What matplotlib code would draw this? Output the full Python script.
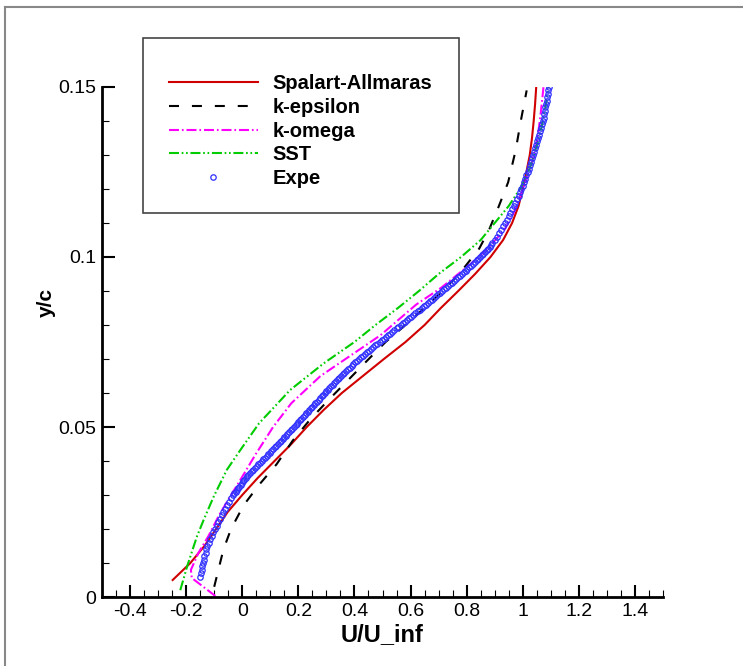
import matplotlib
matplotlib.use("Agg")
import matplotlib.pyplot as plt
from matplotlib.ticker import MultipleLocator, FuncFormatter
from matplotlib.patches import Rectangle
from matplotlib.lines import Line2D

plt.rcParams['font.family'] = ['Liberation Sans', 'DejaVu Sans']

# Spalart-Allmaras
sa_y = [0.005, 0.010, 0.015, 0.020, 0.025, 0.030, 0.035, 0.040, 0.045, 0.050,
        0.055, 0.060, 0.065, 0.070, 0.075, 0.080, 0.085, 0.090, 0.095, 0.100,
        0.105, 0.110, 0.115, 0.120, 0.125, 0.130, 0.135, 0.140, 0.145, 0.150]
sa_x = [-0.248, -0.185, -0.135, -0.093, -0.052, 0.000, 0.055, 0.115, 0.175, 0.230,
        0.290, 0.355, 0.430, 0.505, 0.582, 0.650, 0.708, 0.770, 0.830, 0.885,
        0.930, 0.962, 0.985, 1.000, 1.013, 1.025, 1.033, 1.039, 1.044, 1.048]

# k-epsilon
ke_y = [0.003, 0.008, 0.014, 0.020, 0.027, 0.033, 0.039, 0.046, 0.052, 0.058,
        0.063, 0.069, 0.075, 0.080, 0.084, 0.090, 0.096, 0.1025, 0.108, 0.115,
        0.122, 0.1315, 0.140, 0.149]
ke_x = [-0.100, -0.085, -0.067, -0.040, 0.005, 0.060, 0.122, 0.180, 0.240, 0.308,
        0.368, 0.439, 0.511, 0.582, 0.636, 0.715, 0.783, 0.845, 0.880, 0.915,
        0.948, 0.975, 0.993, 1.014]

# k-omega
kw_y = [0.0003, 0.0056, 0.008, 0.013, 0.018, 0.024, 0.030, 0.034, 0.042, 0.050,
        0.057, 0.065, 0.071, 0.077, 0.086, 0.091, 0.098, 0.103, 0.108, 0.113,
        0.121, 0.1285, 0.1344, 0.1422, 0.150]
kw_x = [-0.096, -0.180, -0.183, -0.156, -0.120, -0.083, -0.040, -0.010, 0.048, 0.110,
        0.175, 0.279, 0.386, 0.493, 0.620, 0.710, 0.815, 0.880, 0.935, 0.968,
        1.005, 1.035, 1.052, 1.064, 1.074]

# SST
sst_y = [0.002, 0.0094, 0.0177, 0.0226, 0.0295, 0.0374, 0.0432, 0.0511, 0.0609, 0.0687,
         0.075, 0.080, 0.085, 0.090, 0.095, 0.100, 0.105, 0.110, 0.115, 0.120,
         0.125, 0.130, 0.135, 0.140, 0.145, 0.150]
sst_x = [-0.221, -0.195, -0.162, -0.138, -0.102, -0.055, -0.007, 0.060, 0.171, 0.290,
         0.400, 0.475, 0.555, 0.630, 0.700, 0.780, 0.850, 0.900, 0.950, 0.990,
         1.020, 1.040, 1.058, 1.072, 1.083, 1.092]

# experiment, stations every 0.001
exp_y = [0.006, 0.007, 0.008, 0.009, 0.010, 0.011, 0.012, 0.013, 0.014, 0.015,
         0.016, 0.017, 0.018, 0.019, 0.020, 0.021, 0.022, 0.023, 0.024, 0.025,
         0.026, 0.027, 0.028, 0.029, 0.030, 0.031, 0.032, 0.033, 0.034, 0.035,
         0.036, 0.037, 0.038, 0.039, 0.040, 0.041, 0.042, 0.043, 0.044, 0.045,
         0.046, 0.047, 0.048, 0.049, 0.050, 0.051, 0.052, 0.053, 0.054, 0.055,
         0.056, 0.057, 0.058, 0.059, 0.060, 0.061, 0.062, 0.063, 0.064, 0.065,
         0.066, 0.067, 0.068, 0.069, 0.070, 0.071, 0.072, 0.073, 0.074, 0.075,
         0.076, 0.077, 0.078, 0.079, 0.080, 0.081, 0.082, 0.083, 0.084, 0.085,
         0.086, 0.087, 0.088, 0.089, 0.090, 0.091, 0.092, 0.093, 0.094, 0.095,
         0.096, 0.097, 0.098, 0.099, 0.100, 0.101, 0.102, 0.103, 0.104, 0.105,
         0.106, 0.107, 0.108, 0.109, 0.110, 0.111, 0.112, 0.113, 0.114, 0.115,
         0.116, 0.117, 0.118, 0.119, 0.120, 0.121, 0.122, 0.123, 0.124, 0.125,
         0.126, 0.127, 0.128, 0.129, 0.130, 0.131, 0.132, 0.133, 0.134, 0.135,
         0.136, 0.137, 0.138, 0.139, 0.140, 0.141, 0.142, 0.143, 0.144, 0.145,
         0.146, 0.147, 0.148, 0.149, 0.150]
exp_x = [-0.149, -0.147, -0.145, -0.143, -0.141, -0.138, -0.135, -0.131, -0.128, -0.124,
         -0.120, -0.115, -0.109, -0.103, -0.097, -0.091, -0.085, -0.079, -0.073, -0.067,
         -0.061, -0.055, -0.049, -0.041, -0.033, -0.024, -0.015, -0.006, 0.003, 0.012,
         0.022, 0.033, 0.045, 0.057, 0.069, 0.081, 0.093, 0.104, 0.116, 0.127,
         0.139, 0.150, 0.161, 0.173, 0.184, 0.195, 0.206, 0.217, 0.228, 0.239,
         0.250, 0.261, 0.272, 0.283, 0.294, 0.305, 0.317, 0.328, 0.340, 0.352,
         0.364, 0.377, 0.390, 0.403, 0.417, 0.431, 0.445, 0.460, 0.475, 0.490,
         0.505, 0.520, 0.535, 0.550, 0.565, 0.580, 0.595, 0.610, 0.625, 0.640,
         0.655, 0.670, 0.684, 0.698, 0.712, 0.726, 0.740, 0.754, 0.768, 0.782,
         0.796, 0.810, 0.823, 0.836, 0.848, 0.860, 0.871, 0.882, 0.891, 0.900,
         0.908, 0.915, 0.922, 0.929, 0.936, 0.943, 0.950, 0.956, 0.962, 0.968,
         0.974, 0.980, 0.985, 0.990, 0.995, 1.000, 1.005, 1.009, 1.013, 1.017,
         1.021, 1.025, 1.029, 1.033, 1.037, 1.041, 1.045, 1.048, 1.052, 1.055,
         1.059, 1.062, 1.065, 1.068, 1.071, 1.074, 1.076, 1.079, 1.081, 1.083,
         1.085, 1.087, 1.089, 1.091, 1.093]

# experiment, extra stations in the shear layer (denser sampling)
exp2_y = [0.0305, 0.0315, 0.0325, 0.0335, 0.0345, 0.0355, 0.0365, 0.0375, 0.0385, 0.0395,
          0.0405, 0.0415, 0.0425, 0.0435, 0.0445, 0.0455, 0.0465, 0.0475, 0.0485, 0.0495,
          0.0505, 0.0515, 0.0525, 0.0535, 0.0545, 0.0555, 0.0565, 0.0575, 0.0585, 0.0595,
          0.0605, 0.0615, 0.0625, 0.0635, 0.0645, 0.0655, 0.0665, 0.0675, 0.0685, 0.0695,
          0.0705, 0.0715, 0.0725, 0.0735, 0.0745, 0.0755, 0.0765, 0.0775, 0.0785, 0.0795,
          0.0805, 0.0815, 0.0825, 0.0835, 0.0845, 0.0855, 0.0865, 0.0875, 0.0885, 0.0895,
          0.0905, 0.0915, 0.0925, 0.0935, 0.0945, 0.0955, 0.0965, 0.0975, 0.0985, 0.0995,
          0.1005, 0.1015, 0.1025, 0.1035]
exp2_x = [-0.029, -0.020, -0.011, -0.002, 0.008, 0.017, 0.027, 0.039, 0.051, 0.063,
          0.075, 0.087, 0.098, 0.110, 0.121, 0.133, 0.144, 0.155, 0.167, 0.178,
          0.190, 0.200, 0.211, 0.222, 0.233, 0.244, 0.255, 0.266, 0.277, 0.288,
          0.300, 0.311, 0.322, 0.334, 0.346, 0.358, 0.370, 0.383, 0.396, 0.410,
          0.424, 0.438, 0.452, 0.467, 0.482, 0.497, 0.512, 0.527, 0.542, 0.557,
          0.572, 0.587, 0.602, 0.617, 0.632, 0.647, 0.662, 0.677, 0.691, 0.705,
          0.719, 0.733, 0.747, 0.761, 0.775, 0.789, 0.803, 0.816, 0.829, 0.842,
          0.854, 0.865, 0.876, 0.886]

W, H = 743, 666
fig = plt.figure(figsize=(W / 100, H / 100), dpi=100)
ax = fig.add_axes([102 / W, 1 - 597 / H, 561 / W, 510 / H])

l_sa, = ax.plot(sa_x, sa_y, color='#d00000', lw=1.5, label='Spalart-Allmaras')
l_ke, = ax.plot(ke_x, ke_y, color='black', lw=1.5, dashes=(4.8, 6.2), label='k-epsilon')
l_kw, = ax.plot(kw_x, kw_y, color='#ff00ff', lw=1.5, dashes=(4.8, 1.4, 0.8, 1.4), label='k-omega')
l_sst, = ax.plot(sst_x, sst_y, color='#00cc00', lw=1.5,
                 dashes=(4.8, 1.3, 0.8, 1.3, 0.8, 1.3), label='SST')
exp_style = dict(ls='none', marker='o', ms=3.9, mfc='none', mec='#2f2fff', mew=0.9)
l_exp, = ax.plot(exp_x, exp_y, label='Expe', **exp_style)
ax.plot(exp2_x, exp2_y, **exp_style)

ax.set_xlim(-0.5, 1.5)
ax.set_ylim(0, 0.15)
ax.xaxis.set_major_locator(MultipleLocator(0.2))
ax.xaxis.set_minor_locator(MultipleLocator(0.05))
ax.yaxis.set_major_locator(MultipleLocator(0.05))
ax.yaxis.set_minor_locator(MultipleLocator(0.01))
fmt = FuncFormatter(lambda v, p: '%g' % round(v, 4))
ax.xaxis.set_major_formatter(fmt)
ax.yaxis.set_major_formatter(fmt)

for s in ['top', 'right']:
    ax.spines[s].set_visible(False)
for s in ['left', 'bottom']:
    ax.spines[s].set_linewidth(2)

ax.tick_params(which='major', direction='in', length=9, width=1.5, labelsize=14, pad=4)
ax.tick_params(which='minor', direction='in', length=5, width=0.8)

ax.set_xlabel('U/U_inf', fontsize=17, fontweight='bold')
ax.xaxis.set_label_coords(0.5, -0.052)
ax.set_ylabel('y/c', fontsize=15, fontweight='bold')
ax.yaxis.set_label_coords(-0.082, 0.578)

# legend box
fig.patches.append(Rectangle((143 / W, 1 - 213 / H), 316 / W, 175 / H,
                             transform=fig.transFigure, fill=False,
                             edgecolor='#444444', lw=1.2))
ax.legend(handles=[l_sa, l_ke, l_kw, l_sst, l_exp], loc='upper left',
          bbox_to_anchor=(169 / W, 1 - 74 / H), bbox_transform=fig.transFigure,
          frameon=False, prop={'weight': 'bold', 'size': 14.5}, handlelength=4.4,
          handletextpad=0.75, labelspacing=0.24, numpoints=1, borderpad=0,
          borderaxespad=0)

# outer page border
fig.lines.append(Line2D([5 / W, 5 / W], [0, 1 - 7 / H], transform=fig.transFigure,
                        color='#888888', lw=1.5))
fig.lines.append(Line2D([5 / W, 1], [1 - 7 / H, 1 - 7 / H], transform=fig.transFigure,
                        color='#888888', lw=1.5))

fig.savefig('out.png', dpi=100)
